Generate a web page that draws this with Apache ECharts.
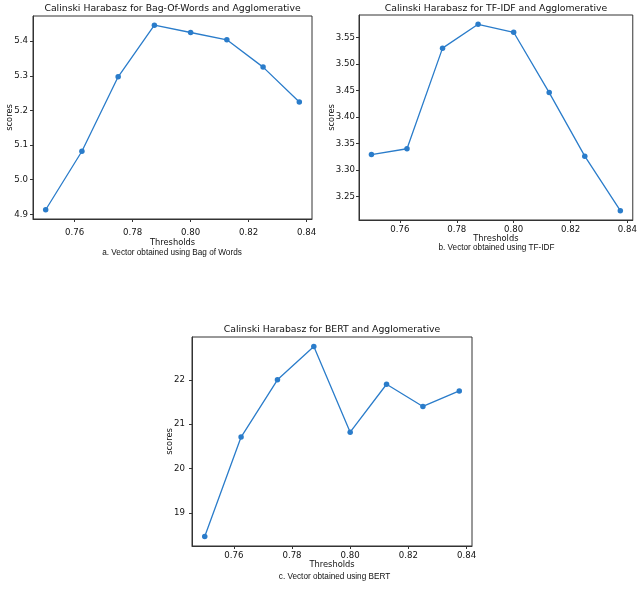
<!DOCTYPE html>
<html>
<head>
<meta charset="utf-8">
<script src="https://cdn.jsdelivr.net/npm/echarts@6/dist/echarts.min.js"></script>
<style>
  html, body { margin: 0; padding: 0; background: #fff; }
  #main { width: 640px; height: 592px; }
</style>
</head>
<body>
<div id="main"></div>
<script>
// thresholds (x) shared by the three plots
var thresholds = [0.75, 0.7625, 0.775, 0.7875, 0.8, 0.8125, 0.825, 0.8375];
// scores
var bowScores = [4.913, 5.082, 5.297, 5.446, 5.425, 5.404, 5.325, 5.224];
var tfidfScores = [3.329, 3.340, 3.530, 3.575, 3.560, 3.446, 3.326, 3.223];
var bertScores = [18.47, 20.71, 22.00, 22.75, 20.82, 21.90, 21.40, 21.75];
// tick labels
var xTicks = [0.76, 0.78, 0.80, 0.82, 0.84];
var bowTicks = [4.9, 5.0, 5.1, 5.2, 5.3, 5.4];
var tfidfTicks = [3.25, 3.30, 3.35, 3.40, 3.45, 3.50, 3.55];
var bertTicks = [19, 20, 21, 22];

var titles = ['Calinski Harabasz for Bag-Of-Words and Agglomerative',
              'Calinski Harabasz for TF-IDF and Agglomerative',
              'Calinski Harabasz for BERT and Agglomerative'];
var captions = ['a. Vector obtained using Bag of Words',
                'b. Vector obtained using TF-IDF',
                'c. Vector obtained using BERT'];

var LINE = '#2a7cca';
var INK = '#111';

// matplotlib style 5% padding
function pad(arr){
    var lo = Math.min.apply(null, arr), hi = Math.max.apply(null, arr);
    var m = (hi - lo) * 0.05;
    return {min: lo - m, max: hi + m};
}

var xr = pad(thresholds);
var panels = [
    {data: bowScores, ticks: bowTicks, dec: 1, grid: {left: 33, top: 16, width: 279, height: 203},
     lblMargin: 9, yLblMargin: 5, xGap: 20, yGap: 19,
     titleX: 172.5, titleY: 4, capX: 172, capY: 249},
    {data: tfidfScores, ticks: tfidfTicks, dec: 2, grid: {left: 359, top: 15, width: 274, height: 205},
     lblMargin: 5, yLblMargin: 4, xGap: 15, yGap: 23,
     titleX: 496, titleY: 4, capX: 496.5, capY: 244},
    {data: bertScores, ticks: bertTicks, dec: 0, grid: {left: 192, top: 337, width: 280, height: 209},
     lblMargin: 5, yLblMargin: 7, xGap: 15, yGap: 18,
     titleX: 332, titleY: 325.5, capX: 334.5, capY: 573}
];

var option = {
    animation: false,
    backgroundColor: '#fff',
    title: [],
    grid: [],
    xAxis: [],
    yAxis: [],
    series: [],
    graphic: []
};

panels.forEach(function(p, i){
    var yr = pad(p.data);
    option.title.push({
        text: titles[i],
        left: p.titleX, top: p.titleY, padding: 0,
        textAlign: 'center',
        textStyle: {fontFamily: 'DejaVu Sans', fontSize: 9.3, fontWeight: 'normal', color: INK}
    });
    option.grid.push({
        left: p.grid.left, top: p.grid.top, width: p.grid.width, height: p.grid.height,
        show: true, borderColor: '#333', borderWidth: 1, backgroundColor: 'transparent'
    });
    option.xAxis.push({
        type: 'value', gridIndex: i,
        min: xr.min, max: xr.max,
        name: 'Thresholds', nameLocation: 'middle', nameGap: p.xGap, nameMoveOverlap: false,
        nameTextStyle: {fontFamily: 'DejaVu Sans', fontSize: 8.3, color: INK},
        axisLine: {show: true, lineStyle: {color: '#333', width: 1}},
        axisTick: {show: true, length: 3, customValues: xTicks, lineStyle: {color: '#333'}},
        axisLabel: {
            customValues: xTicks, margin: p.lblMargin,
            fontFamily: 'DejaVu Sans', fontSize: 8.6, color: INK,
            formatter: function(v){ return v.toFixed(2); }
        },
        splitLine: {show: false}
    });
    option.yAxis.push({
        type: 'value', gridIndex: i,
        min: yr.min, max: yr.max,
        name: 'scores', nameLocation: 'middle', nameGap: p.yGap, nameMoveOverlap: false,
        nameTextStyle: {fontFamily: 'DejaVu Sans', fontSize: 8.3, color: INK},
        axisLine: {show: true, lineStyle: {color: '#333', width: 1}},
        axisTick: {show: true, length: 3, customValues: p.ticks, lineStyle: {color: '#333'}},
        axisLabel: {
            customValues: p.ticks, margin: p.yLblMargin,
            fontFamily: 'DejaVu Sans', fontSize: 8.6, color: INK,
            formatter: (function(d){ return function(v){ return v.toFixed(d); }; })(p.dec)
        },
        splitLine: {show: false}
    });
    option.series.push({
        type: 'line', xAxisIndex: i, yAxisIndex: i,
        data: thresholds.map(function(t, k){ return [t, p.data[k]]; }),
        symbol: 'circle', symbolSize: 5.5,
        lineStyle: {color: LINE, width: 1.3},
        itemStyle: {color: LINE}
    });
    option.graphic.push({
        type: 'text', x: p.capX, y: p.capY,
        style: {
            text: captions[i], textAlign: 'center',
            font: '8.2px "Liberation Sans"', fill: INK
        }
    });
});

var myChart = echarts.init(document.getElementById('main'));
myChart.setOption(option);
</script>
</body>
</html>
